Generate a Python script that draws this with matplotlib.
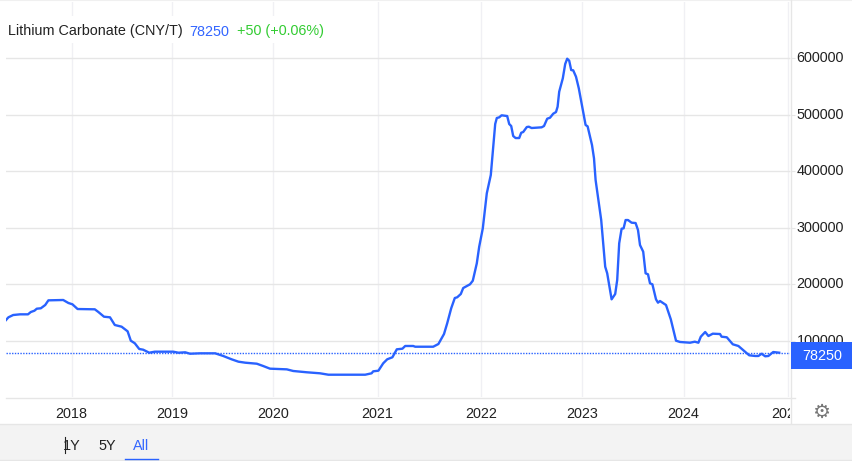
import matplotlib
matplotlib.use('Agg')
import matplotlib.pyplot as plt
from matplotlib.lines import Line2D
from matplotlib.patches import Rectangle
from matplotlib.transforms import Bbox, ScaledTranslation

# x is counted in trading sessions from the left edge of the chart
sessions = [0, 6, 18, 35, 55, 62, 71, 77, 87, 98,
            106, 143, 156, 166, 179, 222, 231, 245, 260, 272,
            289, 304, 312, 322, 333, 343, 358, 372, 418, 431,
            448, 460, 485, 523, 543, 564, 581, 598, 627, 643,
            660, 702, 718, 752, 785, 806, 898, 914, 918, 931,
            943, 953, 966, 977, 991, 998, 1018, 1023, 1068, 1081,
            1095, 1103, 1113, 1122, 1128, 1137, 1143, 1160, 1167, 1177,
            1183, 1192, 1202, 1212, 1218, 1223, 1227, 1233, 1239, 1253,
            1258, 1263, 1268, 1274, 1283, 1288, 1293, 1302, 1307, 1314,
            1339, 1345, 1353, 1360, 1368, 1375, 1379, 1383, 1392, 1398,
            1403, 1408, 1413, 1418, 1425, 1432, 1442, 1449, 1454, 1465,
            1470, 1474, 1488, 1498, 1503, 1514, 1523, 1528, 1533, 1539,
            1544, 1549, 1555, 1564, 1574, 1580, 1585, 1593, 1599, 1605,
            1610, 1616, 1625, 1630, 1635, 1650, 1662, 1675, 1685, 1710,
            1722, 1731, 1737, 1748, 1756, 1767, 1785, 1789, 1802, 1817,
            1831, 1852, 1858, 1873, 1881, 1889, 1898, 1906, 1918, 1933]
price = [136400, 141200, 145300, 146500, 146500, 150600, 152900, 156500, 157200, 163000,
         171300, 171900, 166600, 164300, 155900, 155400, 150600, 142300, 141200, 127600,
         124600, 116400, 99800, 95200, 85100, 83800, 78500, 80300, 80300, 78500,
         79200, 76700, 77400, 77400, 72700, 66800, 62600, 60800, 59000, 54900,
         50200, 49000, 46100, 43800, 42000, 39500, 39500, 42000, 45500, 46600,
         59700, 66800, 70400, 84500, 85600, 90400, 90400, 89100, 89100, 93900,
         111600, 130600, 157200, 175400, 176700, 182500, 193100, 199700, 206100, 236900,
         266300, 298900, 361000, 393400, 443500, 483800, 494400, 495600, 499200, 497900,
         483800, 480200, 462500, 458900, 458900, 468300, 469600, 478400, 479000, 476700,
         477900, 480200, 493200, 494900, 502000, 505000, 514400, 541000, 564700, 590100,
         599500, 596000, 579400, 578900, 567600, 547000, 508600, 482000, 479700, 446500,
         423000, 384500, 313600, 230900, 219200, 173100, 182500, 207300, 272400, 298200,
         298900, 313600, 313600, 308900, 308300, 295900, 269300, 257500, 219200, 217400,
         201500, 199700, 173100, 167100, 170100, 163000, 137700, 99800, 97500, 96200,
         98000, 96200, 106900, 115200, 108100, 112200, 111600, 106900, 105800, 93400,
         90400, 77400, 73900, 72700, 72700, 76700, 72100, 72700, 79700, 78500]
last_price = 78250
year_sessions = [164, 416, 668, 929, 1188, 1441, 1694, 1954]
year_labels = ['2018', '2019', '2020', '2021', '2022', '2023', '2024', '2025']
price_ticks = [100000, 200000, 300000, 400000, 500000, 600000]
ranges = ['1Y', '5Y', 'All']

plt.rcParams['font.family'] = ['Liberation Sans', 'DejaVu Sans']
W, H = 852, 461
BLUE = '#2962ff'
TEXT = '#222222'
GRID = '#e6e6e6'

fig = plt.figure(figsize=(W / 100, H / 100), dpi=100)
ax = fig.add_axes([6 / W, 1 - 397 / H, 784 / W, 395 / H])
ax.plot(sessions, price, color=BLUE, lw=1.7, zorder=4, solid_joinstyle='round')
ax.axhline(last_price, color=BLUE, lw=1.0, ls=(0, (1, 1)), zorder=3)
ax.set_xlim(0, 1960)
ax.set_ylim(0, 700000)

for s in ax.spines.values():
    s.set_visible(False)
ax.set_xticks(year_sessions, year_labels)
ax.set_yticks(price_ticks, [str(p) for p in price_ticks])
ax.yaxis.tick_right()
ax.tick_params(axis='x', length=0, pad=7.5, labelsize=10.4, labelcolor=TEXT)
ax.tick_params(axis='y', length=3.6, width=0.8, color=GRID, pad=1.2, labelsize=10.4, labelcolor=TEXT)
ax.xaxis.grid(True, color='#f0f0f4', lw=1.0)
ax.yaxis.grid(True, color=GRID, lw=1.0)
ax.set_axisbelow(True)

# price labels sit a bit above their grid line
up = ScaledTranslation(0, 1.5 / 100, fig.dpi_scale_trans)
for lab in ax.get_yticklabels():
    lab.set_transform(lab.get_transform() + up)

# the last year label gets cut by the price panel
clip = Bbox([[0, 0], [790, H]])
for lab in ax.get_xticklabels():
    lab.set_clip_box(clip)
    lab.set_clip_on(True)

# white strip behind the title
ax.add_patch(Rectangle((0, 1 - 43 / H), 330 / W, 27 / H, transform=fig.transFigure, fc='white', ec='none', zorder=2,
                       clip_on=False))
fig.text(8 / W, 1 - 31.5 / H, 'Lithium Carbonate (CNY/T)', fontsize=10.4, color=TEXT, va='center', zorder=6)
fig.text(189 / W, 1 - 31.5 / H, str(last_price), fontsize=10.4, color='#3366ff', va='center', zorder=6)
fig.text(237 / W, 1 - 31.5 / H, '+50 (+0.06%)', fontsize=10.4, color='#33cc33', va='center', zorder=6)

# chart frame
fig.add_artist(Line2D([0, 1], [1 - 0.5 / H, 1 - 0.5 / H], color='#f0f0f0', lw=1.5))
fig.add_artist(Line2D([6 / W, 795 / W], [1 - 397.5 / H, 1 - 397.5 / H], color=GRID, lw=1.0))
fig.add_artist(Line2D([790.5 / W, 790.5 / W], [1 - 424 / H, 1], color=GRID, lw=1.0))

# last price box
box = Rectangle((791 / W, 1 - 369 / H), 61 / W, 27 / H, transform=fig.transFigure, fc=BLUE, ec='none', zorder=5)
fig.add_artist(box)
fig.text(822 / W, 1 - 355.5 / H, str(last_price), fontsize=10.4, color='white', ha='center', va='center', zorder=6)

# settings gear
fig.text(821 / W, 1 - 412 / H, '\u2699', family='DejaVu Sans', fontsize=14.5, color='#777777', ha='center',
         va='center', zorder=6)

# range selector bar
bar = Rectangle((0, 0), 1, 37 / H, transform=fig.transFigure, fc='#f3f3f3', ec='none', zorder=5)
fig.add_artist(bar)
fig.add_artist(Line2D([0, 1], [37 / H, 37 / H], color=GRID, lw=1.0, zorder=6))
fig.add_artist(Line2D([0, 1], [1.5 / H, 1.5 / H], color=GRID, lw=1.0, zorder=6))
for name, px, col in zip(ranges, [72, 107, 141], [TEXT, TEXT, '#3366ff']):
    fig.text(px / W, 1 - 445.5 / H, name, fontsize=10.4, color=col, ha='center', va='center', zorder=7)
fig.add_artist(Line2D([64.5 / W, 64.5 / W], [1 - 453 / H, 1 - 437 / H], color='#222222', lw=0.8, zorder=7))
fig.add_artist(Line2D([125 / W, 158 / W], [1 - 458.5 / H, 1 - 458.5 / H], color=BLUE, lw=1.0, zorder=7))

fig.savefig('out.png', dpi=100)
